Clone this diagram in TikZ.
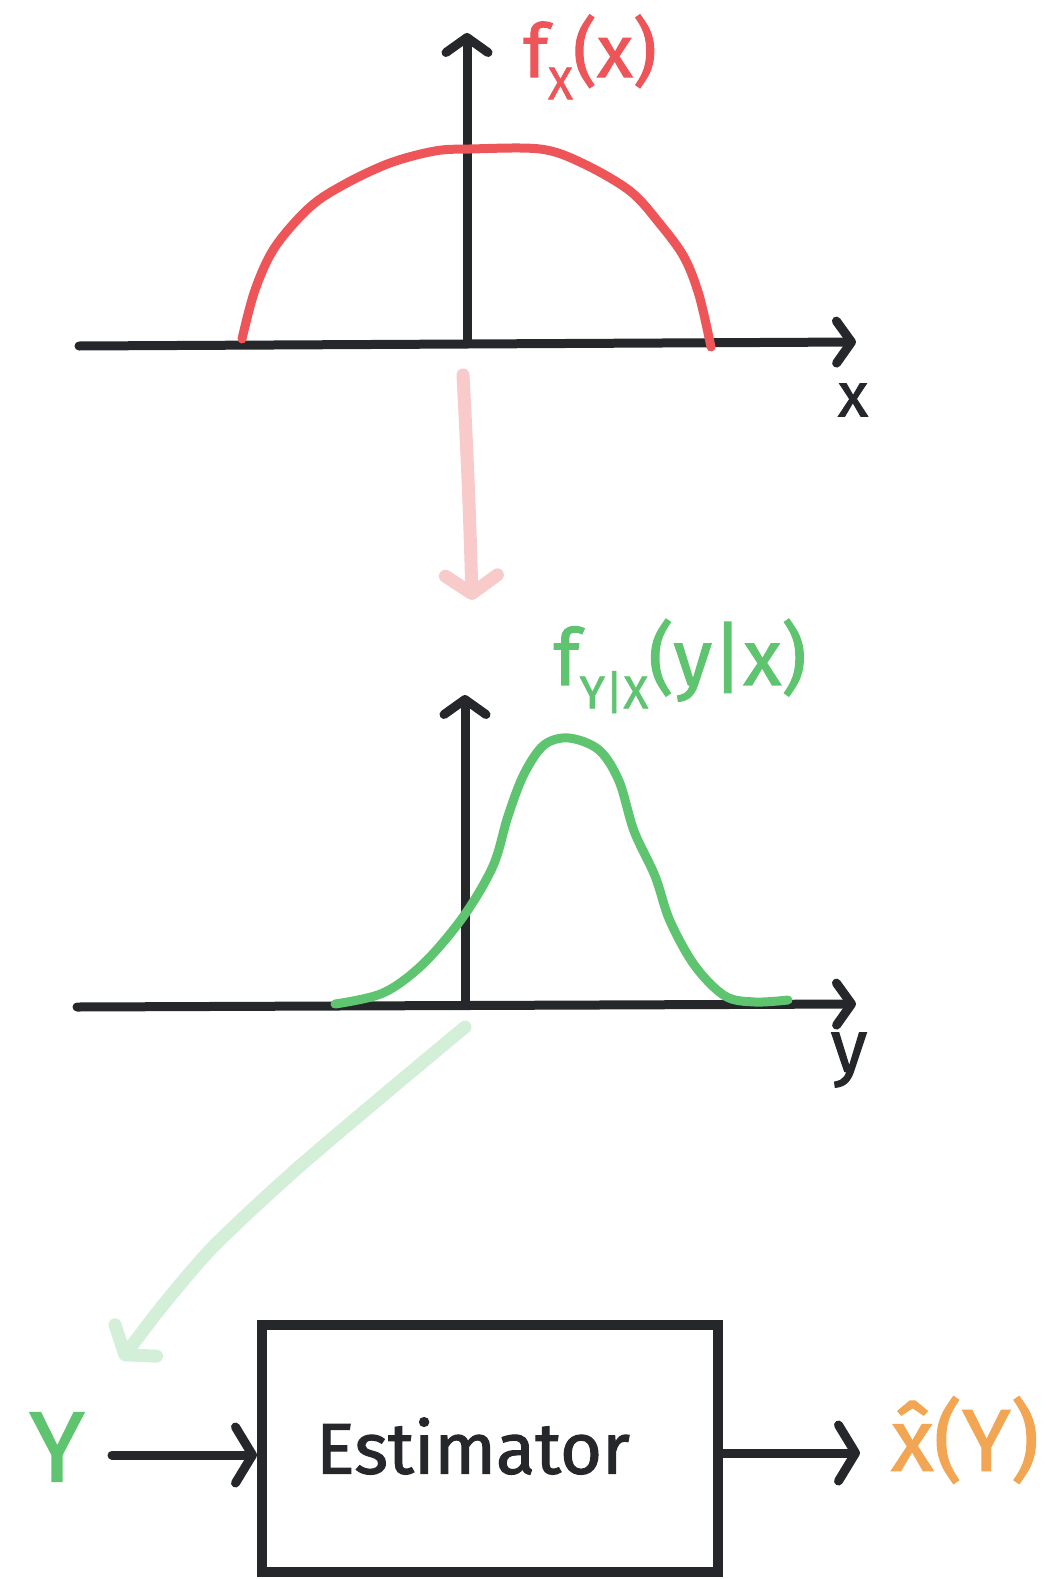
\documentclass[tikz,border=0pt]{standalone}
\usepackage{fontspec}
\setmainfont[FakeBold=1.5]{Fira Sans}
\usetikzlibrary{arrows.meta}
\definecolor{ink}{HTML}{25272B}
\definecolor{rd}{HTML}{EE5558}
\definecolor{gr}{HTML}{5EC46F}
\definecolor{pk}{HTML}{F8CACA}
\definecolor{lg}{HTML}{D3EFD8}
\definecolor{og}{HTML}{F2A552}
\tikzset{
  axisline/.style={draw=ink, line width=9pt, line cap=round, line join=round,
    -{Straight Barb[length=15pt,width=42pt,line width=9pt,round]}},
  curveline/.style={line width=9pt, line cap=round, line join=round},
  flowarrow/.style={line width=13pt, line cap=round, line join=round,
    -{Straight Barb[length=18pt,width=52pt,line width=13pt,round]}},
  boxline/.style={draw=ink, line width=9pt, line cap=round,
    -{Straight Barb[length=17pt,width=56pt,line width=9pt,round]}},
  lbl/.style={inner sep=0pt, font=\fontsize{74}{74}\selectfont},
}
\newcommand{\subsc}[1]{\raisebox{-0.3em}{\fontsize{46}{46}\selectfont #1}}
\begin{document}
\begin{tikzpicture}[x=1pt,y=-1pt]
\useasboundingbox (0,0) rectangle (1049,1579);
% ---- top plot
\coordinate (ax1l) at (79,346);
\coordinate (ax1r) at (856,342);
\coordinate (ay1b) at (467,342);
\coordinate (ay1t) at (467,33);
\draw[axisline] (ax1l) -- (ax1r);
\draw[axisline] (ay1b) -- (ay1t);
\draw[curveline, rd] plot[smooth, tension=0.55] coordinates {(242,339) (255,290) (275,247) (310,207) (345,184) (390,163) (435,151) (470,149) (540,149) (582,163) (630,191) (660,224) (684,257) (699,295) (711,347)};
\node[lbl, text=rd] (fx) at (590,57) {f\subsc{X}(x)};
\node[lbl, text=ink, font=\fontsize{62}{62}\selectfont] (xl) at (853,400) {x};
% ---- pink arrow
\coordinate (pk1) at (463,375);
\coordinate (pk2) at (472,600);
\draw[flowarrow, pk] (pk1) .. controls (467,450) and (470,520) .. (pk2);
% ---- middle plot
\coordinate (ax2l) at (77,1007);
\coordinate (ax2r) at (856,1004);
\coordinate (ay2b) at (465,1004);
\coordinate (ay2t) at (465,695);
\draw[axisline] (ax2l) -- (ax2r);
\draw[axisline] (ay2b) -- (ay2t);
\draw[curveline, gr] plot[smooth, tension=0.55] coordinates {(335,1004) (383,993) (423,964) (463,917) (493,866) (508,816) (524,774) (544,745) (569,738) (599,750) (619,781) (634,831) (655,876) (670,921) (695,966) (725,996) (755,1002) (788,1000)};
\node[lbl, text=gr, font=\fontsize{78}{78}\selectfont] (fyx) at (680,666) {f\subsc{Y|X}(y|x)};
\node[lbl, text=ink, font=\fontsize{74}{74}\selectfont] (yl) at (849,1060) {y};
% ---- green arrow
\coordinate (lg1) at (465,1027);
\coordinate (lg2) at (121,1360);
\draw[flowarrow, lg] plot[smooth, tension=0.5] coordinates {(465,1027) (380,1098) (292,1173) (211,1249) (155,1315)} -- (lg2);
% ---- estimator
\node[draw=ink, line width=10pt, minimum width=456pt, minimum height=247pt, inner sep=0pt] (est) at (490,1448) {};
\node[inner sep=0pt, font=\fontsize{72}{72}\selectfont, text=ink] (estlbl) at (473,1446) {Estimator};
\node[lbl, text=gr, font=\fontsize{100}{100}\selectfont] (yin) at (57,1447) {Y};
\node[lbl, text=og, font=\fontsize{88}{88}\selectfont] (xhat) at (965,1440) {\^{x}(Y)};
\coordinate (inl) at (112,1455);
\draw[boxline] (inl) -- (inl -| est.west);
\coordinate (outr) at (860,1453);
\draw[boxline] (outr -| est.east) -- (outr);
\end{tikzpicture}
\end{document}
